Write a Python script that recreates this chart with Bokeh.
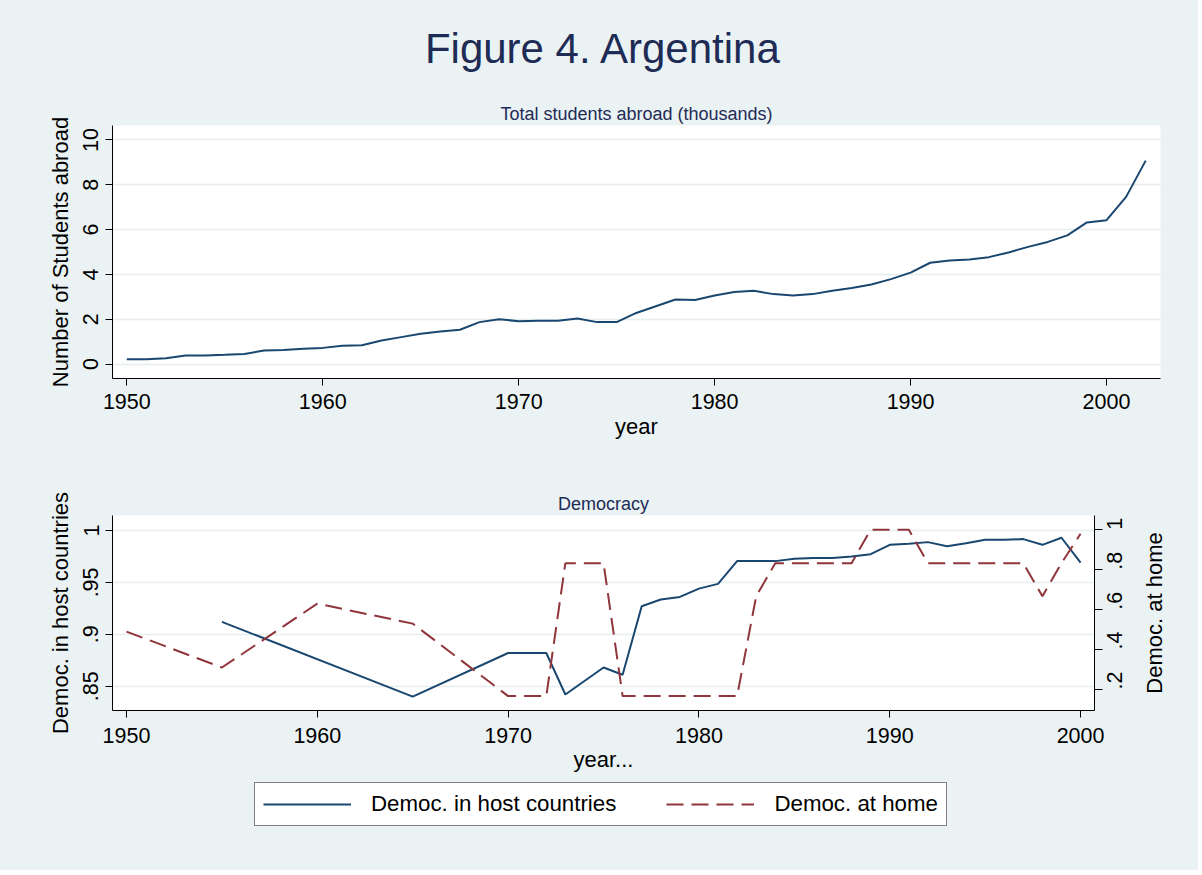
import math
from bokeh.plotting import figure
from bokeh.models import (Range1d, LinearAxis, FixedTicker, Legend, LegendItem,
                          CustomJSTickFormatter)
from bokeh.layouts import column, row
from bokeh.embed import file_html
from bokeh.resources import INLINE
from bokeh.core.properties import value

# ---------------- data ----------------
student_years = list(range(1950, 2003))
students_abroad = [0.21, 0.21, 0.26, 0.38, 0.38, 0.41, 0.45, 0.60, 0.62, 0.68,
                   0.72, 0.81, 0.84, 1.05, 1.20, 1.35, 1.45, 1.53, 1.87, 2.00,
                   1.91, 1.93, 1.93, 2.03, 1.87, 1.87, 2.28, 2.58, 2.88, 2.86,
                   3.06, 3.21, 3.27, 3.12, 3.06, 3.12, 3.27, 3.39, 3.55, 3.79,
                   4.08, 4.52, 4.62, 4.67, 4.77, 4.98, 5.23, 5.45, 5.74, 6.32,
                   6.42, 7.46, 9.08]

host_years = [1955, 1965, 1970, 1971, 1972, 1973, 1975, 1976, 1977, 1978,
              1979, 1980, 1981, 1982, 1983, 1984, 1985, 1986, 1987, 1988,
              1989, 1990, 1991, 1992, 1993, 1994, 1995, 1996, 1997, 1998,
              1999, 2000]
democ_host = [0.912, 0.840, 0.882, 0.882, 0.882, 0.842, 0.868, 0.861, 0.927, 0.9335,
              0.936, 0.944, 0.9486, 0.9705, 0.9705, 0.9705, 0.9727, 0.9734, 0.9734, 0.975,
              0.9772, 0.9862, 0.9872, 0.9888, 0.9849, 0.9878, 0.991, 0.991, 0.9917, 0.9862,
              0.993, 0.969]

home_years = [1950, 1955, 1960, 1965, 1970, 1971, 1972, 1973, 1974, 1975,
              1976, 1977, 1978, 1979, 1980, 1981, 1982, 1983, 1984, 1985,
              1986, 1987, 1988, 1989, 1990, 1991, 1992, 1993, 1994, 1995,
              1996, 1997, 1998, 1999, 2000]
democ_home = [0.49, 0.31, 0.63, 0.53, 0.167, 0.167, 0.167, 0.833, 0.833, 0.833,
              0.167, 0.167, 0.167, 0.167, 0.167, 0.167, 0.167, 0.667, 0.833, 0.833,
              0.833, 0.833, 0.833, 1.0, 1.0, 1.0, 0.833, 0.833, 0.833, 0.833,
              0.833, 0.833, 0.667, 0.833, 0.98]

year_ticks = [1950, 1960, 1970, 1980, 1990, 2000]
students_ticks = [0, 2, 4, 6, 8, 10]
host_ticks = [0.85, 0.9, 0.95, 1.0]
home_ticks = [0.2, 0.4, 0.6, 0.8, 1.0]

main_title = "Figure 4. Argentina"
top_title = "Total students abroad (thousands)"
bottom_title = "Democracy"
label_host = "Democ. in host countries"
label_home = "Democ. at home"

# ---------------- style ----------------
BG = "#EAF2F3"
GRID = "#E6EEF0"
NAVY = "#1A476F"
MAROON = "#90353B"
TITLE_C = "#1E2B55"
FONT = "Liberation Sans"
DASH = "17 8"
W = 1198
W2 = 1138  # bottom chart incl. right tick labels; the right-axis title sits beside it

fmt = CustomJSTickFormatter(code="""
var s = (Math.round(tick*100)/100).toString();
return s.replace(/^0\\./, '.');
""")


def style_axis(ax, label_size="22px", tick_size="21.5px"):
    ax.axis_line_color = "black"
    ax.axis_line_width = 1
    ax.major_tick_line_color = "black"
    ax.major_tick_out = 7
    ax.major_tick_in = 0
    ax.minor_tick_line_color = None
    ax.major_label_text_font = FONT
    ax.major_label_text_font_size = tick_size
    ax.major_label_text_color = "black"
    ax.axis_label_text_font = FONT
    ax.axis_label_text_font_size = label_size
    ax.axis_label_text_font_style = "normal"
    ax.axis_label_text_color = "black"


def base_fig(**kw):
    p = figure(output_backend="svg", toolbar_location=None, **kw)
    p.background_fill_color = "white"
    p.border_fill_color = BG
    p.outline_line_color = None
    return p


def style_title(t, standoff):
    t.align = "center"
    t.text_font = FONT
    t.text_font_size = "18px"
    t.text_font_style = "normal"
    t.text_color = TITLE_C
    try:
        t.standoff = standoff
    except Exception:
        pass


# ---------------- header ----------------
p0 = figure(width=W, height=90, x_range=Range1d(0, W), y_range=Range1d(0, 90),
            min_border=0, x_axis_location=None, y_axis_location=None,
            output_backend="svg", toolbar_location=None)
p0.grid.visible = False
p0.outline_line_color = None
p0.background_fill_color = BG
p0.border_fill_color = BG
p0.text(x=[603], y=[42], text=[main_title], text_font=value(FONT),
        text_font_size="42px", text_align="center", text_baseline="middle",
        text_color=TITLE_C)

# ---------------- top chart ----------------
p1 = base_fig(width=W, height=360,
              x_range=Range1d(1949.27, 2002.755), y_range=Range1d(-0.647, 10.647),
              min_border_left=112, min_border_right=38, min_border_top=35,
              min_border_bottom=72, title=top_title)
style_title(p1.title, 3)
p1.line(student_years, students_abroad, line_color=NAVY, line_width=2)
p1.xgrid.visible = False
p1.ygrid.grid_line_color = GRID
p1.ygrid.grid_line_width = 1.5
p1.ygrid.ticker = FixedTicker(ticks=students_ticks)
p1.xaxis.ticker = FixedTicker(ticks=year_ticks)
p1.yaxis.ticker = FixedTicker(ticks=students_ticks)
p1.xaxis.axis_label = "year"
p1.yaxis.axis_label = "Number of Students abroad"
style_axis(p1.xaxis[0])
style_axis(p1.yaxis[0])
p1.yaxis.major_label_orientation = "vertical"
p1.xaxis.major_label_standoff = 8
p1.xaxis.axis_label_standoff = 2
p1.yaxis.major_label_standoff = 7
p1.yaxis.axis_label_standoff = 8

# ---------------- bottom chart ----------------
p2 = base_fig(width=W2, height=332,
              x_range=Range1d(1949.266, 2000.73), y_range=Range1d(0.8266, 1.01445),
              min_border_left=112, min_border_right=W2 - 1094, min_border_top=65,
              min_border_bottom=72, title=bottom_title)
style_title(p2.title, 3)
p2.extra_y_ranges = {"home": Range1d(0.0948, 1.0716)}
p2.line(host_years, democ_host, line_color=NAVY, line_width=2)
p2.line(home_years, democ_home, line_color=MAROON, line_width=2,
        line_dash=DASH, y_range_name="home")
p2.xgrid.visible = False
p2.ygrid.grid_line_color = GRID
p2.ygrid.grid_line_width = 1.5
p2.ygrid.ticker = FixedTicker(ticks=host_ticks)
p2.xaxis.ticker = FixedTicker(ticks=year_ticks)
p2.yaxis.ticker = FixedTicker(ticks=host_ticks)
p2.yaxis.formatter = fmt
p2.xaxis.axis_label = "year..."
p2.yaxis.axis_label = label_host
style_axis(p2.xaxis[0])
style_axis(p2.yaxis[0])
p2.yaxis.major_label_orientation = "vertical"
p2.xaxis.major_label_standoff = 10
p2.xaxis.axis_label_standoff = 1
p2.yaxis.major_label_standoff = 7
p2.yaxis.axis_label_standoff = 8

# right axis: line, ticks and tick labels
ax_r = LinearAxis(y_range_name="home", ticker=FixedTicker(ticks=home_ticks),
                  formatter=fmt)
style_axis(ax_r)
ax_r.major_tick_out = 8
ax_r.major_label_orientation = math.pi / 2
ax_r.major_label_standoff = 12
p2.add_layout(ax_r, "right")

# right-axis title: a label-only axis beside the chart, same vertical frame
p2s = figure(width=W - W2, height=332, x_range=Range1d(0, 1),
             y_range=Range1d(0.0948, 1.0716),
             min_border_left=0, min_border_right=0, min_border_top=65,
             min_border_bottom=72, x_axis_location=None, y_axis_location="left",
             output_backend="svg", toolbar_location=None)
p2s.grid.visible = False
p2s.outline_line_color = None
p2s.background_fill_color = BG
p2s.border_fill_color = BG
p2s.yaxis.ticker = FixedTicker(ticks=[])
p2s.yaxis.axis_label = label_home
style_axis(p2s.yaxis[0])
p2s.yaxis.axis_line_color = None
p2s.yaxis.major_tick_line_color = None
p2s.yaxis.major_tick_out = 0
p2s.yaxis.major_label_standoff = 0
p2s.yaxis.axis_label_standoff = 0

# ---------------- legend ----------------
p3 = figure(width=W, height=88, x_range=Range1d(0, 1), y_range=Range1d(0, 1),
            min_border=0, x_axis_location=None, y_axis_location=None,
            output_backend="svg", toolbar_location=None)
p3.grid.visible = False
p3.outline_line_color = None
p3.background_fill_color = BG
p3.border_fill_color = BG
# legend-only renderers: their points lie outside the visible range
r1 = p3.line([5, 6], [5, 6], line_color=NAVY, line_width=2)
r2 = p3.line([5, 6], [5, 6], line_color=MAROON, line_width=2, line_dash=DASH)
legend = Legend(items=[LegendItem(label=label_host, renderers=[r1]),
                       LegendItem(label=label_home, renderers=[r2])],
                orientation="horizontal", location=(254, 44))
legend.border_line_color = "black"
legend.border_line_width = 1
legend.background_fill_color = "white"
legend.background_fill_alpha = 1
legend.label_text_font = FONT
legend.label_text_font_size = "22.3px"
legend.label_text_color = "black"
legend.glyph_width = 88
legend.glyph_height = 20
legend.label_standoff = 20
legend.spacing = 50
legend.padding = 8
legend.margin = 0
p3.add_layout(legend)

layout = column(row(p0), row(p1), row(p2, p2s), row(p3),
                styles={"background-color": BG})
open("out.html", "w").write(file_html(layout, INLINE))
